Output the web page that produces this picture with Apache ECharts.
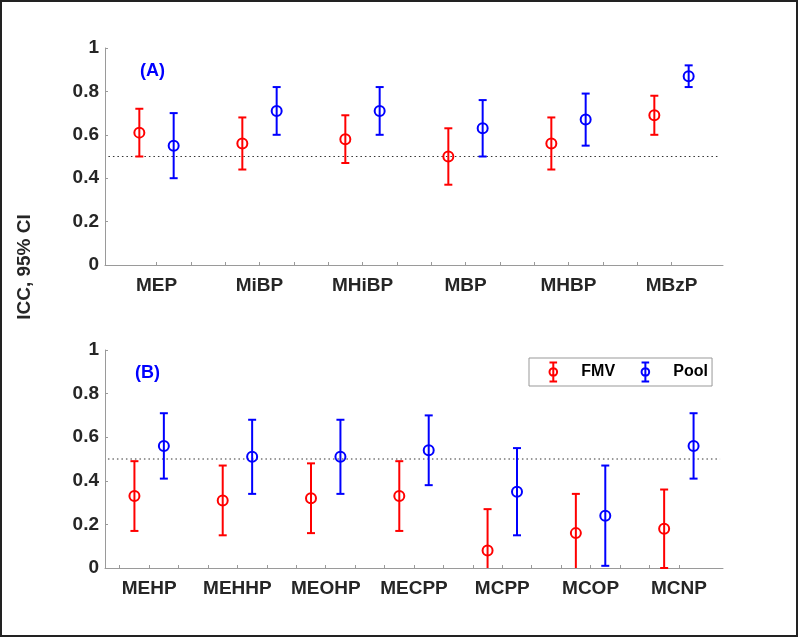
<!DOCTYPE html>
<html>
<head>
<meta charset="utf-8">
<script src="https://cdn.jsdelivr.net/npm/echarts@6/dist/echarts.min.js"></script>
<style>
html,body{margin:0;padding:0;background:#fff;}
#chart{width:800px;height:639px;}
</style>
</head>
<body>
<div id="chart"></div>
<script>
// ---- Data ----
const topCategories = ['MEP', 'MiBP', 'MHiBP', 'MBP', 'MHBP', 'MBzP'];
const topFMV      = [0.61, 0.56, 0.58, 0.50, 0.56, 0.69];
const topFMVLow   = [0.50, 0.44, 0.47, 0.37, 0.44, 0.60];
const topFMVHigh  = [0.72, 0.68, 0.69, 0.63, 0.68, 0.78];
const topPool     = [0.55, 0.71, 0.71, 0.63, 0.67, 0.87];
const topPoolLow  = [0.40, 0.60, 0.60, 0.50, 0.55, 0.82];
const topPoolHigh = [0.70, 0.82, 0.82, 0.76, 0.79, 0.92];

const botCategories = ['MEHP', 'MEHHP', 'MEOHP', 'MECPP', 'MCPP', 'MCOP', 'MCNP'];
const botFMV      = [0.33, 0.31, 0.32, 0.33, 0.08, 0.16, 0.18];
const botFMVLow   = [0.17, 0.15, 0.16, 0.17, -0.11, -0.02, 0.00];
const botFMVHigh  = [0.49, 0.47, 0.48, 0.49, 0.27, 0.34, 0.36];
const botPool     = [0.56, 0.51, 0.51, 0.54, 0.35, 0.24, 0.56];
const botPoolLow  = [0.41, 0.34, 0.34, 0.38, 0.15, 0.01, 0.41];
const botPoolHigh = [0.71, 0.68, 0.68, 0.70, 0.55, 0.47, 0.71];

const threshold = 0.5;
const yTickLabels = ['0', '0.2', '0.4', '0.6', '0.8', '1'];
const seriesNames = ['FMV', 'Pool'];
const panelLabels = ['(A)', '(B)'];
const yTitle = 'ICC, 95% CI';

// ---- Helpers ----
const FONT = '"Liberation Sans", Arial, Helvetica, sans-serif';
const RED = '#ff0000', BLUE = '#0000ff', TXT = '#262626', AXC = '#9a9a9a';

function pts(vals, lo, hi, offset) {
  return vals.map((v, i) => [3 * i + offset, v, lo[i], hi[i]]);
}
function range(a, b, step) { const r = []; for (let v = a; v <= b + 1e-9; v += step) r.push(+v.toFixed(2)); return r; }

function renderErr(params, api) {
  const x = api.value(0), v = api.value(1), lo = api.value(2), hi = api.value(3);
  const c = api.coord([x, v]);
  const cl = api.coord([x, lo]);
  const ch = api.coord([x, hi]);
  const cs = params.coordSys;
  const bottom = cs.y + cs.height;
  const color = api.visual('color');
  const hw = 4, r = 5;
  let yl = cl[1], loCap = true;
  if (yl > bottom + 0.5) { yl = bottom; loCap = false; }
  const st = { stroke: color, lineWidth: 2, fill: 'none' };
  const children = [
    { type: 'line', shape: { x1: c[0], y1: ch[1], x2: c[0], y2: yl }, style: st },
    { type: 'line', shape: { x1: c[0] - hw, y1: ch[1], x2: c[0] + hw, y2: ch[1] }, style: st },
    { type: 'circle', shape: { cx: c[0], cy: c[1], r: r }, style: st }
  ];
  if (loCap) children.push({ type: 'line', shape: { x1: c[0] - hw, y1: yl, x2: c[0] + hw, y2: yl }, style: st });
  return { type: 'group', children: children };
}

function xAxisFor(gridIndex, cats, max, tickStart) {
  return {
    type: 'value', gridIndex: gridIndex, min: 0, max: max,
    axisLine: { show: true, lineStyle: { color: AXC, width: 1 } },
    axisTick: { show: true, inside: true, length: 3, lineStyle: { color: AXC }, customValues: range(tickStart, max - 1.5, 1) },
    axisLabel: {
      show: true, margin: 11, fontSize: 19, fontWeight: 'bold', color: TXT, fontFamily: FONT,
      customValues: cats.map((c, i) => 3 * i + 1.5),
      formatter: function (v) { return cats[Math.round((v - 1.5) / 3)] || ''; }
    },
    splitLine: { show: false }
  };
}
function yAxisFor(gridIndex) {
  return {
    type: 'value', gridIndex: gridIndex, min: 0, max: 1, interval: 0.2,
    axisLine: { show: true, lineStyle: { color: AXC, width: 1 } },
    axisTick: { show: true, inside: true, length: 3, lineStyle: { color: AXC } },
    axisLabel: {
      margin: 6, fontSize: 19, fontWeight: 'bold', color: TXT, fontFamily: FONT,
      formatter: function (v) { return yTickLabels[Math.round(v / 0.2)]; }
    },
    splitLine: { show: false }
  };
}
function errSeries(name, color, data, idx) {
  return {
    type: 'custom', name: name, xAxisIndex: idx, yAxisIndex: idx,
    itemStyle: { color: color }, renderItem: renderErr, data: data, z: 3
  };
}
function thresholdSeries(idx, max) {
  return {
    type: 'line', xAxisIndex: idx, yAxisIndex: idx, symbol: 'none', silent: true, z: 1,
    lineStyle: { color: '#333', width: 1, type: [1.5, 3] },
    data: [[0.1, threshold], [max - 0.1, threshold]]
  };
}

const iconPath = 'path://M1,0 L9,0 M5,0 L5,20 M1,20 L9,20 M9,10 A4,4 0 1,1 1,10 A4,4 0 1,1 9,10 Z';

const chart = echarts.init(document.getElementById('chart'), null, { renderer: 'canvas' });
chart.setOption({
  animation: false,
  backgroundColor: '#fff',
  grid: [
    { left: 105, top: 48, width: 618, height: 217 },
    { left: 105, top: 350, width: 618, height: 218 }
  ],
  xAxis: [xAxisFor(0, topCategories, 18, 1.5), xAxisFor(1, botCategories, 21, 0.5)],
  yAxis: [yAxisFor(0), yAxisFor(1)],
  title: [
    { text: panelLabels[0], left: 140, top: 62, padding: 0, textStyle: { color: BLUE, fontSize: 18, fontWeight: 'bold', fontFamily: FONT } },
    { text: panelLabels[1], left: 135, top: 364, padding: 0, textStyle: { color: BLUE, fontSize: 18, fontWeight: 'bold', fontFamily: FONT } }
  ],
  legend: {
    left: 529, top: 358, orient: 'horizontal',
    padding: [2, 4, 2, 18], itemWidth: 46, itemHeight: 19, itemGap: 24,
    borderColor: '#999', borderWidth: 1, backgroundColor: '#fff',
    selectedMode: false,
    textStyle: { fontSize: 16, fontWeight: 'bold', color: '#000', fontFamily: FONT },
    data: [
      { name: seriesNames[0], icon: iconPath, itemStyle: { color: 'none', borderColor: RED, borderWidth: 2 } },
      { name: seriesNames[1], icon: iconPath, itemStyle: { color: 'none', borderColor: BLUE, borderWidth: 2 } }
    ]
  },
  graphic: [
    { type: 'rect', shape: { x: 1, y: 1, width: 796, height: 635 }, style: { fill: 'none', stroke: '#222', lineWidth: 2 }, silent: true },
    { type: 'text', x: 25, y: 267, rotation: Math.PI / 2, silent: true,
      style: { text: yTitle, textAlign: 'center', textVerticalAlign: 'middle', fill: TXT, font: 'bold 19px ' + FONT } }
  ],
  series: [
    thresholdSeries(0, 18),
    thresholdSeries(1, 21),
    errSeries(seriesNames[0], RED, pts(topFMV, topFMVLow, topFMVHigh, 1), 0),
    errSeries(seriesNames[1], BLUE, pts(topPool, topPoolLow, topPoolHigh, 2), 0),
    errSeries(seriesNames[0], RED, pts(botFMV, botFMVLow, botFMVHigh, 1), 1),
    errSeries(seriesNames[1], BLUE, pts(botPool, botPoolLow, botPoolHigh, 2), 1)
  ]
});
</script>
</body>
</html>
